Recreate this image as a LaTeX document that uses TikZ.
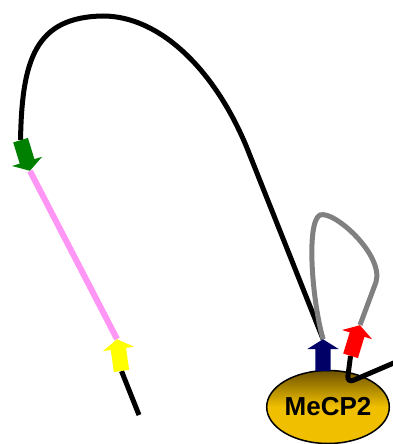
\documentclass[tikz,border=0pt]{standalone}
\usepackage{fontspec}
\setmainfont{Liberation Sans}
\usetikzlibrary{shapes.arrows,shapes.geometric,backgrounds}
\definecolor{sitegreen}{RGB}{0,128,0}
\definecolor{siteyellow}{RGB}{255,255,0}
\definecolor{sitenavy}{RGB}{0,0,102}
\definecolor{sitered}{RGB}{255,0,0}
\definecolor{pinkstrand}{RGB}{255,150,245}
\definecolor{loopgray}{RGB}{128,128,128}
\definecolor{genedark}{RGB}{110,82,0}
\definecolor{genegold}{RGB}{240,192,0}
\tikzstyle{sitearrow}=[single arrow,draw=none,inner xsep=0pt,inner ysep=7.5pt,minimum height=32pt,single arrow head extend=8pt,single arrow tip angle=116]
\tikzstyle{gene}=[ellipse,draw,line width=1.5pt,inner sep=0pt,minimum width=120pt,minimum height=73pt,top color=genedark,bottom color=genegold,middle color=genegold,font=\fontsize{26}{26}\selectfont\bfseries]
\tikzstyle{strand} = [draw,line width=5pt]
\tikzstyle{pinkedge} = [draw,line width=6pt,pinkstrand]
\tikzstyle{loopedge} = [draw,line width=5pt,loopgray]

\begin{document}
\begin{tikzpicture}[x=1pt,y=-1pt]
    \useasboundingbox (0,0) rectangle (392,444);

    % binding sites
    \node[sitearrow,fill=sitegreen,rotate=-73,anchor=tip] (green) at (30,171) {};
    \node[sitearrow,fill=siteyellow,rotate=98,anchor=tip] (yellow) at (117,339) {};
    \node[sitearrow,fill=sitenavy,rotate=90,anchor=tip] (navy) at (323,339) {};
    \node[sitearrow,fill=sitered,rotate=73,anchor=tip] (red) at (360,325) {};
    \coordinate (tailend) at (139,415);
    \coordinate (exit) at (396,362);

    \begin{scope}[on background layer]
    \node[gene] (mecp) at (328,407) {MeCP2};

    % strands
    \path[strand] (green.tail) .. controls (22,60) and (35,17) .. (103,16)
        .. controls (160,16) and (215,70) .. (247,148) -- (navy.tip);
    \path[pinkedge] (green.tip) -- (yellow.tip);
    \path[strand] (yellow.tail) -- (tailend);
    \path[loopedge] (navy.tip) .. controls (312,300) and (306,222) .. (320,215)
        .. controls (334,210) and (384,255) .. (376,282) -- (red.tip);
    \path[strand,rounded corners=7pt] (red.tail) -- (347,383) -- (exit);
    \end{scope}

\end{tikzpicture}
\end{document}
